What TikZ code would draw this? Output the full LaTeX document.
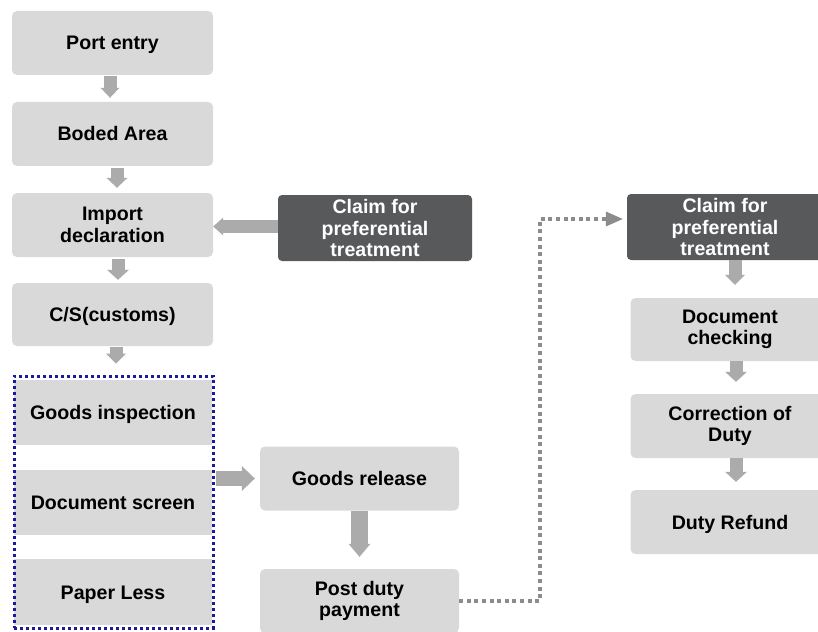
\documentclass[tikz,border=0pt]{standalone}
\usepackage{fontspec}
\setmainfont{Liberation Sans}
\usetikzlibrary{arrows.meta,calc}
\definecolor{boxgray}{HTML}{D9D9D9}
\definecolor{darkbox}{HTML}{58595B}
\definecolor{arrowgray}{HTML}{ABABAB}
\definecolor{dotgray}{HTML}{8C8C8C}
\definecolor{groupblue}{HTML}{1A1A9A}
\begin{document}
\begin{tikzpicture}[x=1pt,y=-1pt,
  every node/.style={font=\bfseries\fontsize{19.6}{21.5}\selectfont, align=center, inner sep=0pt},
  oneline/.style={text height=14pt, text depth=0pt},
  stepbox/.style={fill=boxgray, rounded corners=5pt, minimum width=199pt, minimum height=64pt},
  flatbox/.style={fill=boxgray, oneline, minimum width=198pt, minimum height=65pt},
  claimbox/.style={fill=darkbox, text=white, rounded corners=4pt, minimum height=66pt},
  groupbox/.style={draw=groupblue, line width=3pt, dash pattern=on 3pt off 3pt},
  blockarrow/.style n args={3}{draw=arrowgray, line width=#1, line cap=butt,
    -{Triangle[length=#3, width=#2, line width=0pt]}},
  dotline/.style={draw=dotgray, line width=4pt, dash pattern=on 4pt off 3.6pt,
    -{Triangle[length=17pt, width=15pt, line width=0pt]}}]

\useasboundingbox (0,0) rectangle (818,631);
\clip (0,0) rectangle (818,631);

% left column
\node[stepbox, oneline, minimum width=201pt] (pe) at (112.5,43) {Port entry};
\node[stepbox, oneline, minimum width=201pt] (ba) at (112.5,134) {Boded Area};
\node[stepbox, minimum width=201pt] (id) at (112.5,225) {Import\\declaration};
\node[stepbox, oneline, minimum width=201pt, minimum height=63pt] (cs) at (112.5,314.5) {C/S(customs)};

% inspection group
\node[flatbox] (gi) at (113,412.5) {Goods inspection};
\node[flatbox] (ds) at (113,502.5) {Document screen};
\node[flatbox, minimum height=66pt] (pl) at (113,592) {Paper Less};
\node[groupbox, minimum width=199pt, minimum height=252pt] (grp) at (113.5,502) {};

% middle column
\node[claimbox, minimum width=194pt] (cl1) at (375,228) {Claim for\\preferential\\treatment};
\node[stepbox, oneline] (gr) at (359.5,478.5) {Goods release};
\node[stepbox] (pdp) at (359.5,601) {Post duty\\payment};

% right column
\node[claimbox, minimum width=196pt] (cl2) at (725,227) {Claim for\\preferential\\treatment};
\node[stepbox, minimum height=63pt] (dc) at (730,329.5) {Document\\checking};
\node[stepbox] (cd) at (730,426) {Correction of\\Duty};
\node[stepbox, oneline] (dr) at (730,522) {Duty Refund};

% block arrows
\draw[blockarrow={13pt}{19pt}{10pt}, shorten <=1pt, shorten >=4pt]
  ([xshift=-2.5pt]pe.south) -- ([xshift=-2.5pt]pe.south |- ba.north);
\draw[blockarrow={13pt}{21pt}{10pt}, shorten <=2pt, shorten >=5pt]
  ([xshift=4.5pt]ba.south) -- ([xshift=4.5pt]ba.south |- id.north);
\draw[blockarrow={13pt}{22pt}{10pt}, shorten <=2pt, shorten >=3pt]
  ([xshift=5.5pt]id.south) -- ([xshift=5.5pt]id.south |- cs.north);
\draw[blockarrow={13pt}{20pt}{10pt}, shorten <=1pt, shorten >=11pt]
  ([xshift=3.5pt]cs.south) -- ([xshift=3.5pt]cs.south |- grp.north);
\draw[blockarrow={13pt}{18pt}{10pt}]
  ([yshift=1.5pt]cl1.west) -- ([yshift=1.5pt]cl1.west -| id.east);
\draw[blockarrow={15pt}{25pt}{13pt}, shorten <=1pt, shorten >=5pt]
  (gr.west -| grp.east) -- (gr.west);
\draw[blockarrow={17pt}{22pt}{13pt}, shorten >=12pt]
  (gr.south) -- (pdp.north);
\draw[blockarrow={13pt}{20pt}{10pt}, shorten >=13pt]
  ([xshift=10pt]cl2.south) -- ([xshift=10pt]cl2.south |- dc.north);
\draw[blockarrow={13pt}{22pt}{10pt}, shorten >=12pt]
  ([xshift=6pt]dc.south) -- ([xshift=6pt]dc.south |- cd.north);
\draw[blockarrow={13pt}{22pt}{10pt}, shorten >=8pt]
  ([xshift=6pt]cd.south) -- ([xshift=6pt]cd.south |- dr.north);

% dotted link to the refund claim
\coordinate (bend) at (540,219);
\draw[dotline] (pdp.east) -- (bend |- pdp.east) -- (bend) -- ($(cl2.west)+(-4,-8)$);
\end{tikzpicture}
\end{document}
